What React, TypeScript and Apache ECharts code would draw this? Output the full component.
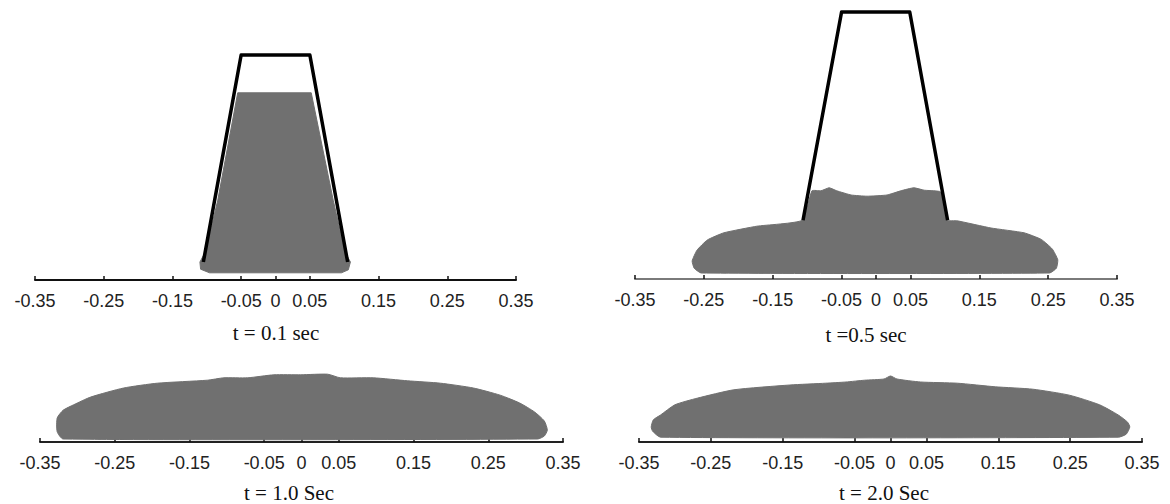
import React, { useEffect, useRef } from "react";
import * as echarts from "echarts";

// Tick positions shown on every horizontal axis (metres)
const X_TICKS: number[] = [-0.35, -0.25, -0.15, -0.05, 0, 0.05, 0.15, 0.25, 0.35];

// Panel captions
const TITLES: string[] = ["t = 0.1 sec", "t =0.5 sec", "t = 1.0 Sec", "t = 2.0 Sec"];

// Container (open-bottom trapezoid) outlines: [x, y]
const CONTAINER_T01: [number, number][] = [
  [-0.105, 0.03], [-0.05, 0.375], [0.05, 0.375], [0.105, 0.03],
];
const CONTAINER_T05: [number, number][] = [
  [-0.106, 0.098], [-0.05, 0.445], [0.049, 0.445], [0.104, 0.098],
];

// Granular mass outlines: [x, y]
const MASS_T01: [number, number][] = [
  [-0.055, 0.312], [0.052, 0.312], [0.084, 0.133], [0.101, 0.047], [0.109, 0.03],
  [0.106, 0.017], [0.096, 0.012], [-0.096, 0.012], [-0.109, 0.018], [-0.11, 0.03],
  [-0.102, 0.047], [-0.084, 0.133],
];
const MASS_T05: [number, number][] = [
  [-0.254, 0.01], [-0.264, 0.018], [-0.267, 0.03], [-0.26, 0.048], [-0.245, 0.065],
  [-0.221, 0.077], [-0.173, 0.088], [-0.107, 0.098], [-0.093, 0.147], [-0.08, 0.147],
  [-0.068, 0.152], [-0.057, 0.147], [-0.036, 0.14], [-0.013, 0.138], [0.016, 0.14],
  [0.036, 0.147], [0.055, 0.152], [0.07, 0.148], [0.084, 0.147], [0.094, 0.145],
  [0.103, 0.098], [0.118, 0.097], [0.167, 0.085], [0.215, 0.077], [0.24, 0.066],
  [0.256, 0.05], [0.264, 0.032], [0.262, 0.018], [0.252, 0.01],
];
const MASS_T10: [number, number][] = [
  [-0.319, 0.005], [-0.327, 0.017], [-0.327, 0.04], [-0.319, 0.053], [-0.305, 0.062],
  [-0.282, 0.075], [-0.238, 0.09], [-0.193, 0.098], [-0.126, 0.103], [-0.104, 0.107],
  [-0.072, 0.107], [-0.037, 0.112], [-0.001, 0.112], [0.035, 0.113], [0.052, 0.107],
  [0.096, 0.107], [0.142, 0.102], [0.186, 0.098], [0.23, 0.09], [0.266, 0.078],
  [0.292, 0.065], [0.312, 0.05], [0.325, 0.035], [0.329, 0.02], [0.325, 0.01],
  [0.316, 0.005],
];
const MASS_T20: [number, number][] = [
  [-0.32, 0.008], [-0.331, 0.018], [-0.333, 0.025], [-0.33, 0.037], [-0.32, 0.045],
  [-0.3, 0.062], [-0.269, 0.073], [-0.218, 0.087], [-0.14, 0.095], [-0.09, 0.098],
  [-0.062, 0.1], [-0.036, 0.103], [-0.009, 0.105], [0, 0.11], [0.009, 0.105],
  [0.042, 0.1], [0.093, 0.098], [0.146, 0.092], [0.198, 0.088], [0.249, 0.078],
  [0.291, 0.062], [0.317, 0.045], [0.33, 0.033], [0.333, 0.025], [0.328, 0.013],
  [0.317, 0.008],
];

const MASS_COLOR = "#707070";
const TICK_FONT = '"Liberation Sans", Arial, sans-serif';
const TITLE_FONT = '"Liberation Serif", "Times New Roman", serif';

function massSeries(pts: [number, number][], idx: number, smooth: number) {
  return {
    type: "custom",
    xAxisIndex: idx,
    yAxisIndex: idx,
    data: pts,
    encode: { x: 0, y: 1 },
    silent: true,
    renderItem: (params: any, api: any) => {
      if (params.dataIndex !== 0) return null;
      return {
        type: "polygon",
        shape: { points: pts.map((p) => api.coord(p)), smooth },
        style: { fill: MASS_COLOR, stroke: MASS_COLOR, lineWidth: 1 },
      };
    },
  };
}

function containerSeries(pts: [number, number][], idx: number) {
  return {
    type: "line",
    xAxisIndex: idx,
    yAxisIndex: idx,
    data: pts,
    showSymbol: false,
    symbol: "none",
    silent: true,
    lineStyle: { color: "#000", width: 3.5, join: "round" },
    z: 5,
  };
}

function xAxis(idx: number, lineColor: string) {
  return {
    type: "value",
    gridIndex: idx,
    min: -0.35,
    max: 0.35,
    interval: 0.05,
    axisLine: { show: true, onZero: false, lineStyle: { color: lineColor, width: 2 } },
    axisTick: {
      show: true,
      inside: true,
      length: 4,
      customValues: X_TICKS,
      lineStyle: { color: "#111", width: 1.5 },
    },
    splitLine: { show: false },
    axisLabel: {
      show: true,
      customValues: X_TICKS,
      margin: 12,
      color: "#222",
      fontFamily: TICK_FONT,
      fontSize: 18,
      formatter: (v: number) => (Math.abs(v) < 1e-9 ? "0" : v.toFixed(2)),
    },
  };
}

function yAxis(idx: number, max: number) {
  return {
    type: "value",
    gridIndex: idx,
    min: 0,
    max,
    show: false,
    splitLine: { show: false },
  };
}

function titleAt(text: string, cx: number, top: number) {
  return {
    text,
    left: cx,
    top,
    textAlign: "center",
    padding: 0,
    textStyle: {
      fontFamily: TITLE_FONT,
      fontSize: 21,
      fontWeight: "normal",
      color: "#111",
    },
  };
}

export default function App() {
  const ref = useRef<HTMLDivElement>(null);

  useEffect(() => {
    document.body.style.margin = "0";
    if (!ref.current) return;
    const chart = echarts.init(ref.current, null, { renderer: "svg" });
    chart.setOption({
      animation: false,
      backgroundColor: "#fff",
      title: [
        titleAt(TITLES[0], 276, 322),
        titleAt(TITLES[1], 866, 324),
        titleAt(TITLES[2], 289, 482),
        titleAt(TITLES[3], 884, 482),
      ],
      grid: [
        { left: 35, top: 10, width: 481, height: 270 },
        { left: 635, top: 9, width: 482, height: 270 },
        { left: 40, top: 358, width: 523, height: 84 },
        { left: 639, top: 358, width: 503, height: 84 },
      ],
      xAxis: [xAxis(0, "#111"), xAxis(1, "#7a7a7a"), xAxis(2, "#222"), xAxis(3, "#222")],
      yAxis: [yAxis(0, 0.45), yAxis(1, 0.45), yAxis(2, 0.14), yAxis(3, 0.14)],
      series: [
        massSeries(MASS_T01, 0, 0),
        containerSeries(CONTAINER_T01, 0),
        massSeries(MASS_T05, 1, 0.15),
        containerSeries(CONTAINER_T05, 1),
        massSeries(MASS_T10, 2, 0.2),
        massSeries(MASS_T20, 3, 0.2),
      ],
    });
    return () => chart.dispose();
  }, []);

  return <div ref={ref} style={{ width: 1170, height: 504 }} />;
}
